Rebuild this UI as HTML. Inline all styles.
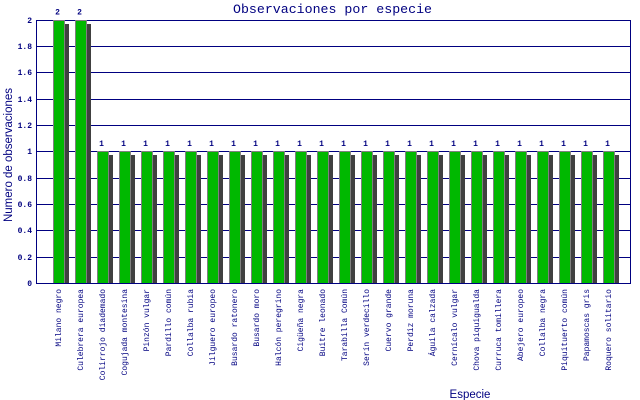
<!DOCTYPE html>
<html><head><meta charset="utf-8"><style>
html,body{margin:0;padding:0;background:#fff;}
svg{display:block;}
.t{font-family:"Liberation Mono",monospace;font-size:8px;font-weight:bold;fill:#000080;}
.xl{font-family:"Liberation Mono",monospace;font-size:8px;fill:#000080;}
</style></head><body>
<svg width="640" height="400" viewBox="0 0 640 400" xmlns="http://www.w3.org/2000/svg">
<rect width="640" height="400" fill="#fff"/>
<text x="233" y="13" font-family="Liberation Mono, monospace" font-size="13" fill="#000080" textLength="199" lengthAdjust="spacingAndGlyphs">Observaciones por especie</text>
<g stroke="#000080" stroke-width="1">
<line x1="36" y1="20.5" x2="631" y2="20.5"/>
<line x1="36" y1="46.5" x2="630" y2="46.5"/>
<line x1="36" y1="72.5" x2="630" y2="72.5"/>
<line x1="36" y1="99.5" x2="630" y2="99.5"/>
<line x1="36" y1="125.5" x2="630" y2="125.5"/>
<line x1="36" y1="151.5" x2="630" y2="151.5"/>
<line x1="36" y1="178.5" x2="630" y2="178.5"/>
<line x1="36" y1="204.5" x2="630" y2="204.5"/>
<line x1="36" y1="230.5" x2="630" y2="230.5"/>
<line x1="36" y1="257.5" x2="630" y2="257.5"/>
</g>
<g class="t" text-anchor="end">
<text x="32" y="23">2</text>
<text x="32" y="49">1.8</text>
<text x="32" y="75">1.6</text>
<text x="32" y="102">1.4</text>
<text x="32" y="128">1.2</text>
<text x="32" y="154">1</text>
<text x="32" y="181">0.8</text>
<text x="32" y="207">0.6</text>
<text x="32" y="233">0.4</text>
<text x="32" y="260">0.2</text>
<text x="32" y="286">0</text>
</g>
<g id="bars" stroke="#808080" stroke-width="1" fill="#00b800">
<rect x="53.5" y="20.5" width="11" height="263"/>
<rect x="75.5" y="20.5" width="11" height="263"/>
<rect x="97.5" y="151.5" width="11" height="132"/>
<rect x="119.5" y="151.5" width="11" height="132"/>
<rect x="141.5" y="151.5" width="11" height="132"/>
<rect x="163.5" y="151.5" width="11" height="132"/>
<rect x="185.5" y="151.5" width="11" height="132"/>
<rect x="207.5" y="151.5" width="11" height="132"/>
<rect x="229.5" y="151.5" width="11" height="132"/>
<rect x="251.5" y="151.5" width="11" height="132"/>
<rect x="273.5" y="151.5" width="11" height="132"/>
<rect x="295.5" y="151.5" width="11" height="132"/>
<rect x="317.5" y="151.5" width="11" height="132"/>
<rect x="339.5" y="151.5" width="11" height="132"/>
<rect x="361.5" y="151.5" width="11" height="132"/>
<rect x="383.5" y="151.5" width="11" height="132"/>
<rect x="405.5" y="151.5" width="11" height="132"/>
<rect x="427.5" y="151.5" width="11" height="132"/>
<rect x="449.5" y="151.5" width="11" height="132"/>
<rect x="471.5" y="151.5" width="11" height="132"/>
<rect x="493.5" y="151.5" width="11" height="132"/>
<rect x="515.5" y="151.5" width="11" height="132"/>
<rect x="537.5" y="151.5" width="11" height="132"/>
<rect x="559.5" y="151.5" width="11" height="132"/>
<rect x="581.5" y="151.5" width="11" height="132"/>
<rect x="603.5" y="151.5" width="11" height="132"/>
</g>
<g fill="#404040">
<rect x="65" y="24" width="4" height="259"/>
<rect x="87" y="24" width="4" height="259"/>
<rect x="109" y="155" width="4" height="128"/>
<rect x="131" y="155" width="4" height="128"/>
<rect x="153" y="155" width="4" height="128"/>
<rect x="175" y="155" width="4" height="128"/>
<rect x="197" y="155" width="4" height="128"/>
<rect x="219" y="155" width="4" height="128"/>
<rect x="241" y="155" width="4" height="128"/>
<rect x="263" y="155" width="4" height="128"/>
<rect x="285" y="155" width="4" height="128"/>
<rect x="307" y="155" width="4" height="128"/>
<rect x="329" y="155" width="4" height="128"/>
<rect x="351" y="155" width="4" height="128"/>
<rect x="373" y="155" width="4" height="128"/>
<rect x="395" y="155" width="4" height="128"/>
<rect x="417" y="155" width="4" height="128"/>
<rect x="439" y="155" width="4" height="128"/>
<rect x="461" y="155" width="4" height="128"/>
<rect x="483" y="155" width="4" height="128"/>
<rect x="505" y="155" width="4" height="128"/>
<rect x="527" y="155" width="4" height="128"/>
<rect x="549" y="155" width="4" height="128"/>
<rect x="571" y="155" width="4" height="128"/>
<rect x="593" y="155" width="4" height="128"/>
<rect x="615" y="155" width="4" height="128"/>
</g>
<g stroke="#000080" stroke-width="1">
<line x1="36.5" y1="20" x2="36.5" y2="284"/>
<line x1="630.5" y1="20" x2="630.5" y2="284"/>
<line x1="36" y1="283.5" x2="631" y2="283.5"/>
</g>
<g class="t" text-anchor="middle">
<text x="57.5" y="14.5">2</text>
<text x="79.5" y="14.5">2</text>
<text x="101.5" y="146">1</text>
<text x="123.5" y="146">1</text>
<text x="145.5" y="146">1</text>
<text x="167.5" y="146">1</text>
<text x="189.5" y="146">1</text>
<text x="211.5" y="146">1</text>
<text x="233.5" y="146">1</text>
<text x="255.5" y="146">1</text>
<text x="277.5" y="146">1</text>
<text x="299.5" y="146">1</text>
<text x="321.5" y="146">1</text>
<text x="343.5" y="146">1</text>
<text x="365.5" y="146">1</text>
<text x="387.5" y="146">1</text>
<text x="409.5" y="146">1</text>
<text x="431.5" y="146">1</text>
<text x="453.5" y="146">1</text>
<text x="475.5" y="146">1</text>
<text x="497.5" y="146">1</text>
<text x="519.5" y="146">1</text>
<text x="541.5" y="146">1</text>
<text x="563.5" y="146">1</text>
<text x="585.5" y="146">1</text>
<text x="607.5" y="146">1</text>
</g>
<g class="xl" text-anchor="end">
<text transform="translate(61,289) rotate(-90)">Milano negro</text>
<text transform="translate(83,289) rotate(-90)">Culebrera europea</text>
<text transform="translate(105,289) rotate(-90)">Colirrojo diademado</text>
<text transform="translate(127,289) rotate(-90)">Cogujada montesina</text>
<text transform="translate(149,289) rotate(-90)">Pinzón vulgar</text>
<text transform="translate(171,289) rotate(-90)">Pardillo común</text>
<text transform="translate(193,289) rotate(-90)">Collalba rubia</text>
<text transform="translate(215,289) rotate(-90)">Jilguero europeo</text>
<text transform="translate(237,289) rotate(-90)">Busardo ratonero</text>
<text transform="translate(259,289) rotate(-90)">Busardo moro</text>
<text transform="translate(281,289) rotate(-90)">Halcón peregrino</text>
<text transform="translate(303,289) rotate(-90)">Cigüeña negra</text>
<text transform="translate(325,289) rotate(-90)">Buitre leonado</text>
<text transform="translate(347,289) rotate(-90)">Tarabilla Común</text>
<text transform="translate(369,289) rotate(-90)">Serín verdecillo</text>
<text transform="translate(391,289) rotate(-90)">Cuervo grande</text>
<text transform="translate(413,289) rotate(-90)">Perdiz moruna</text>
<text transform="translate(435,289) rotate(-90)">Águila calzada</text>
<text transform="translate(457,289) rotate(-90)">Cernícalo vulgar</text>
<text transform="translate(479,289) rotate(-90)">Chova piquigualda</text>
<text transform="translate(501,289) rotate(-90)">Curruca tomillera</text>
<text transform="translate(523,289) rotate(-90)">Abejero europeo</text>
<text transform="translate(545,289) rotate(-90)">Collalba negra</text>
<text transform="translate(567,289) rotate(-90)">Piquituerto común</text>
<text transform="translate(589,289) rotate(-90)">Papamoscas gris</text>
<text transform="translate(611,289) rotate(-90)">Roquero solitario</text>
</g>
<text x="470" y="398" text-anchor="middle" font-family="Liberation Sans, sans-serif" font-size="11.5" fill="#000080">Especie</text>
<text transform="translate(12,155) rotate(-90)" text-anchor="middle" font-family="Liberation Sans, sans-serif" font-size="11.5" fill="#000080" textLength="134" lengthAdjust="spacingAndGlyphs">Numero de observaciones</text>
</svg>
</body></html>
